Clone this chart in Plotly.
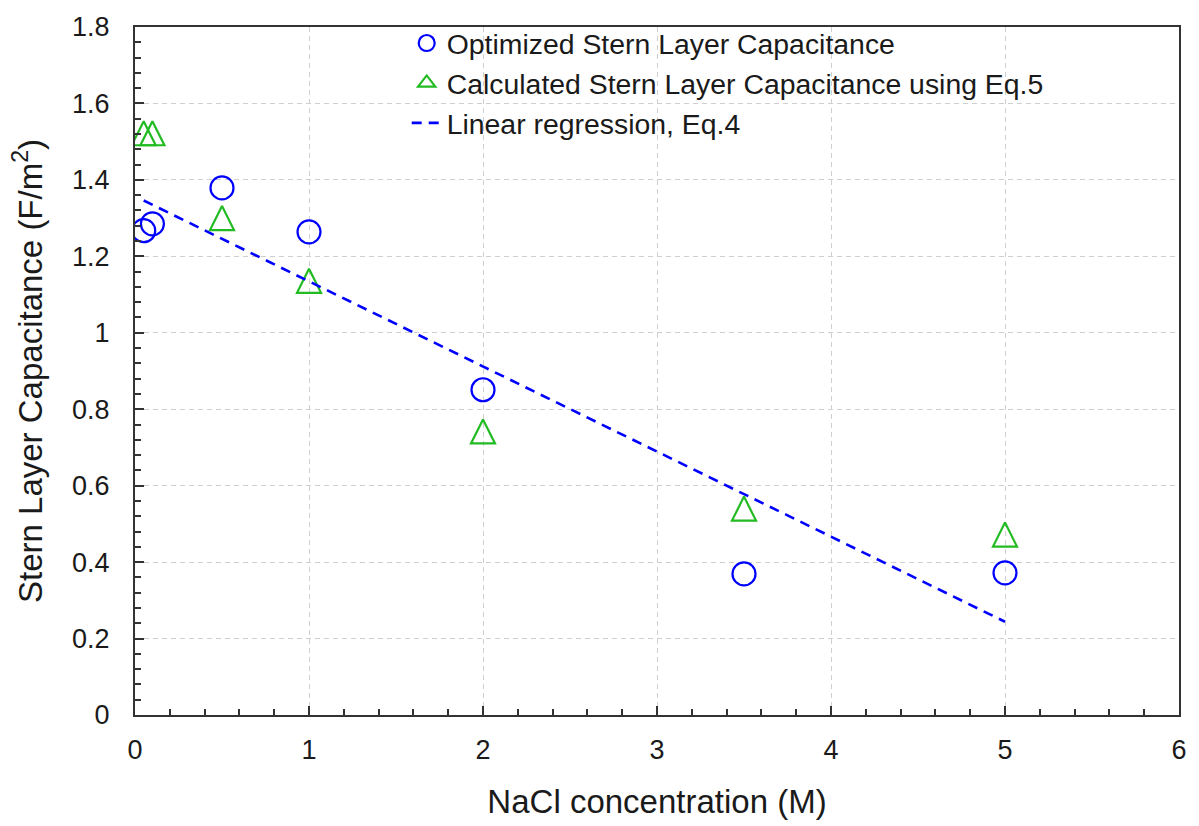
import plotly.graph_objects as go

# Data
nacl_opt = [0.05, 0.1, 0.5, 1.0, 2.0, 3.5, 5.0]
cap_opt = [1.267, 1.285, 1.379, 1.264, 0.851, 0.369, 0.372]

nacl_calc = [0.05, 0.1, 0.5, 1.0, 2.0, 3.5, 5.0]
cap_calc = [1.522, 1.522, 1.300, 1.136, 0.742, 0.540, 0.472]

nacl_fit = [0.05, 5.0]
cap_fit = [1.346, 0.244]

BLUE = "#0000ff"
GREEN = "#22bb22"
FONT = "Liberation Sans, Arial, Helvetica, sans-serif"

fig = go.Figure()
fig.add_trace(go.Scatter(
    x=nacl_opt, y=cap_opt, mode="markers",
    name="Optimized Stern Layer Capacitance",
    marker=dict(symbol="circle-open", size=23, color=BLUE, line=dict(width=2.2, color=BLUE)),
))
# legend-only entry for the triangle series (no data)
fig.add_trace(go.Scatter(
    x=[None], y=[None], mode="markers",
    name="Calculated Stern Layer Capacitance using Eq.5",
    marker=dict(symbol="triangle-up-open", size=15, color=GREEN, line=dict(width=2.2, color=GREEN)),
))
fig.add_trace(go.Scatter(
    x=nacl_calc, y=cap_calc, mode="markers",
    name="Calculated Stern Layer Capacitance using Eq.5",
    showlegend=False,
    marker=dict(symbol="arrow-down-open", size=24, angle=180, standoff=12, color=GREEN,
                line=dict(width=2.2, color=GREEN)),
))
fig.add_trace(go.Scatter(
    x=nacl_fit, y=cap_fit, mode="lines",
    name="Linear regression, Eq.4",
    line=dict(color=BLUE, width=2.6, dash="10px,7px"),
))

axis_common = dict(
    showline=True, linecolor="#333333", linewidth=2, mirror=True,
    ticks="inside", ticklen=9, tickwidth=1.5, tickcolor="#333333",
    showgrid=True, gridcolor="#cfcfcf", gridwidth=1, griddash="5px,4px",
    zeroline=False,
    tickfont=dict(family=FONT, size=27, color="#1a1a1a"),
)

fig.update_xaxes(
    range=[0, 6], dtick=1, tick0=0,
    minor=dict(dtick=0.2, ticks="inside", ticklen=6, tickwidth=1.5, tickcolor="#333333", showgrid=False),
    title=dict(text="NaCl concentration (M)", font=dict(family=FONT, size=33, color="#1a1a1a"), standoff=25),
    ticklabelstandoff=10,
    **axis_common,
)
fig.update_yaxes(
    range=[0, 1.8], dtick=0.2, tick0=0,
    minor=dict(dtick=0.04, ticks="inside", ticklen=6, tickwidth=1.5, tickcolor="#333333", showgrid=False),
    title=dict(text="Stern Layer Capacitance (F/m<sup>2</sup>)", font=dict(family=FONT, size=33, color="#1a1a1a"), standoff=20),
    ticklabelstandoff=18,
    **axis_common,
)

fig.update_layout(
    width=1199, height=826,
    margin=dict(l=135, r=15, t=21, b=104),
    plot_bgcolor="white", paper_bgcolor="white",
    font=dict(family=FONT, color="#1a1a1a"),
    legend=dict(
        x=(408 - 135) / 1049, y=1.013, xanchor="left", yanchor="top",
        bgcolor="rgba(0,0,0,0)", borderwidth=0, tracegroupgap=0,
        font=dict(family=FONT, size=28.4, color="#1a1a1a"),
    ),
)

fig.write_html("out.html")
